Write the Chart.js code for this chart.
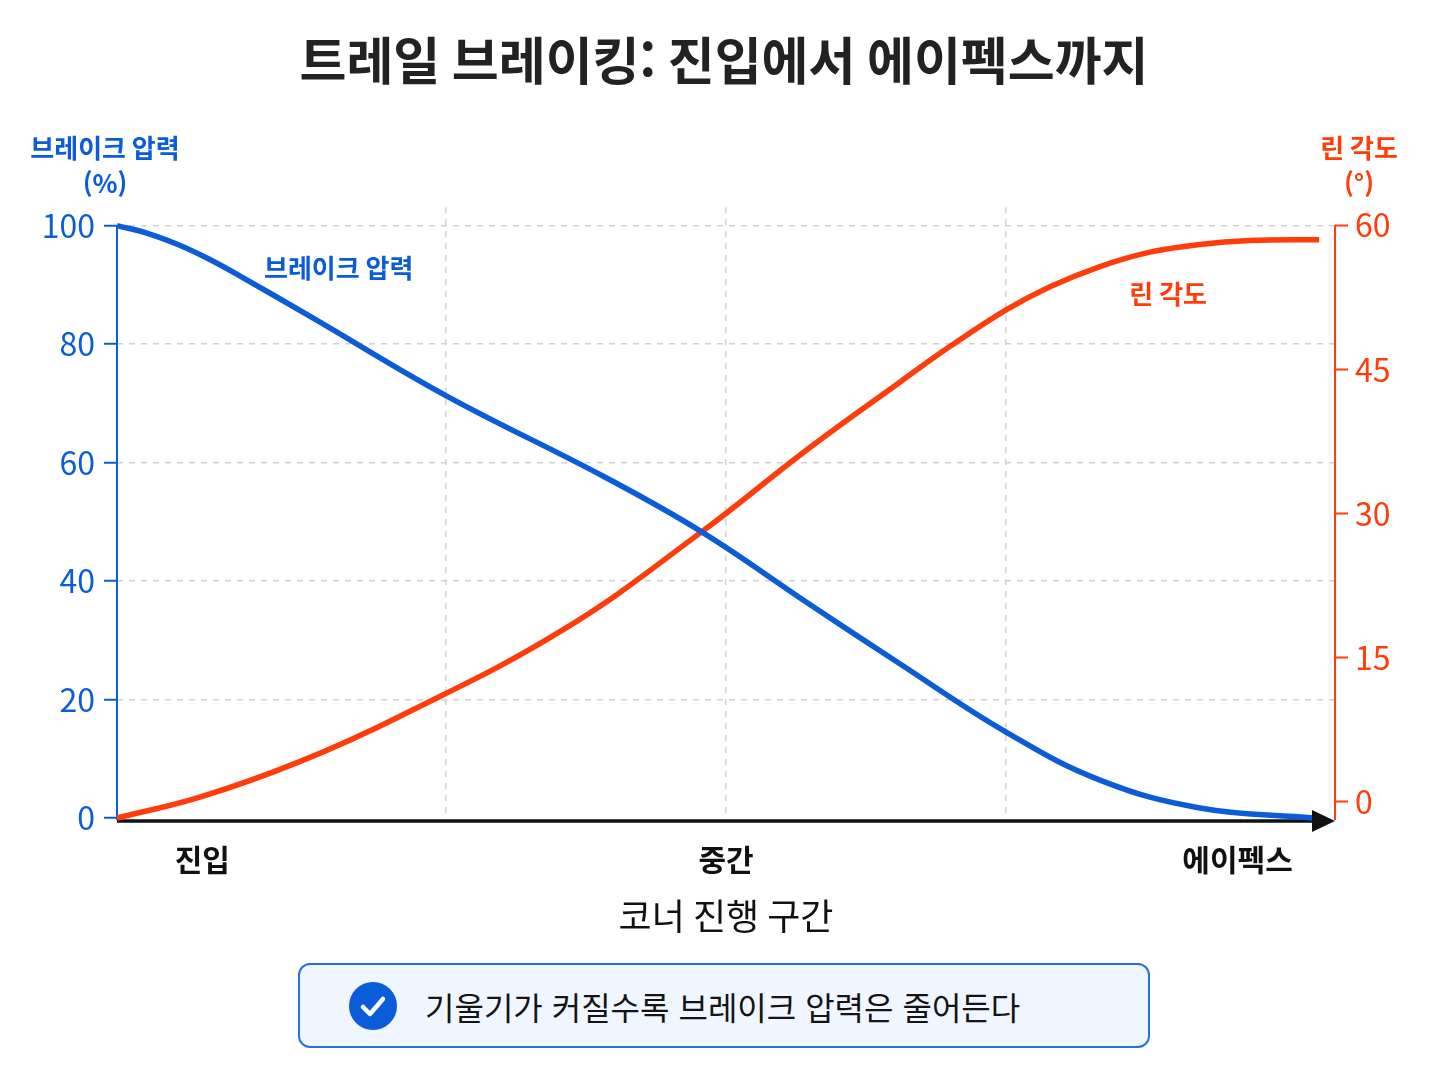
<!DOCTYPE html>
<html lang="ko">
<head>
<meta charset="utf-8">
<title>트레일 브레이킹: 진입에서 에이펙스까지</title>
<script src="https://cdn.jsdelivr.net/npm/chart.js@4.4.1/dist/chart.umd.min.js"></script>
<style>
  html, body { margin: 0; padding: 0; background: #fff; }
  #wrap { position: relative; width: 1448px; height: 1086px; overflow: hidden; }
  #chart { position: absolute; left: 0; top: 0; }
  .note {
    position: absolute; left: 298px; top: 963px; width: 848px; height: 81px;
    border: 2px solid #2b6ee0; border-radius: 12px; background: #eff6ff;
    display: flex; align-items: center; box-sizing: content-box;
    font-family: 'Noto Sans CJK KR', 'Noto Sans', sans-serif; font-size: 32px; color: #141414;
  }
  .note svg { margin-left: 49px; margin-right: 28px; flex: none; }
</style>
</head>
<body>
<div id="wrap">
  <canvas id="chart" width="1448" height="1086"></canvas>
  <div class="note">
    <svg width="48" height="48" viewBox="0 0 48 48">
      <circle cx="24" cy="24" r="24" fill="#0b5cd8"/>
      <path d="M14 25 L21 32 L34 17" fill="none" stroke="#fff" stroke-width="4.5" stroke-linecap="round" stroke-linejoin="round"/>
    </svg>
    <span>기울기가 커질수록 브레이크 압력은 줄어든다</span>
  </div>
</div>
<script>
// 코너 진행 (0 = 진입, 100 = 끝)
const brakeX = [0, 2.5, 5, 7.5, 10, 16, 27, 40, 48, 56.7, 64.3, 73, 80.7, 88.9, 98.2];
const brakePressure = [100, 98.7, 96.8, 94.4, 91.6, 84.5, 71.3, 57.6, 48.3, 36.3, 26.0, 14.5, 6.4, 1.7, 0];

const leanX = [0, 6.8, 15, 23.2, 36.6, 48, 56.7, 64.3, 68.4, 73, 76.6, 80.7, 84.8, 88.9, 93, 98.7];
const leanAngle = [-1.67, 0.5, 4.2, 8.9, 17.9, 28.1, 36.7, 43.7, 47.4, 51.2, 53.6, 55.7, 57.2, 58.0, 58.4, 58.5];

const xTickValues = [7, 27, 50, 73, 92];
const xTickLabels = ['진입', '', '중간', '', '에이펙스'];
const xGridValues = [27, 50, 73];
const brakeTicks = [0, 20, 40, 60, 80, 100];
const leanTicks = [0, 15, 30, 45, 60];

const BLUE = '#0b5cd8';
const RED = '#ff3c0a';
const FONT = "'Noto Sans CJK KR', 'Noto Sans', sans-serif";
const GRID = '#d2d2d2';

const decorPlugin = {
  id: 'decor',
  beforeDatasetsDraw(chart) {
    const { ctx, chartArea, scales } = chart;
    const yL = scales.yBrake;
    const yR = scales.yLean;
    ctx.save();
    ctx.lineWidth = 2;
    ctx.strokeStyle = BLUE;
    ctx.beginPath();
    ctx.moveTo(chartArea.left, yL.getPixelForValue(100));
    ctx.lineTo(chartArea.left, chartArea.bottom + 2);
    ctx.stroke();
    ctx.strokeStyle = RED;
    ctx.beginPath();
    ctx.moveTo(chartArea.right, yR.getPixelForValue(60));
    ctx.lineTo(chartArea.right, chartArea.bottom + 2);
    ctx.stroke();
    // x축 기준선
    ctx.strokeStyle = '#111';
    ctx.lineWidth = 3.5;
    ctx.beginPath();
    ctx.moveTo(chartArea.left, chartArea.bottom + 3);
    ctx.lineTo(chartArea.right - 20, chartArea.bottom + 3);
    ctx.stroke();
    ctx.restore();
  },
  afterDatasetsDraw(chart) {
    const { ctx, chartArea, scales } = chart;
    const x = scales.x;
    ctx.save();
    // 화살표
    const yb = chartArea.bottom + 3;
    ctx.fillStyle = '#111';
    ctx.beginPath();
    ctx.moveTo(chartArea.right - 23, yb - 11);
    ctx.lineTo(chartArea.right, yb);
    ctx.lineTo(chartArea.right - 23, yb + 11);
    ctx.closePath();
    ctx.fill();
    // 선 라벨
    ctx.textAlign = 'center';
    ctx.textBaseline = 'middle';
    ctx.font = `600 26px ${FONT}`;
    ctx.fillStyle = BLUE;
    ctx.fillText('브레이크 압력', x.getPixelForValue(18.2), scales.yBrake.getPixelForValue(92.9));
    ctx.fillStyle = RED;
    ctx.fillText('린 각도', x.getPixelForValue(86.3), scales.yLean.getPixelForValue(52.8));
    ctx.restore();
  },
  afterDraw(chart) {
    const { ctx, chartArea } = chart;
    ctx.save();
    ctx.textAlign = 'center';
    ctx.textBaseline = 'middle';
    ctx.font = `600 26px ${FONT}`;
    ctx.fillStyle = BLUE;
    ctx.fillText('브레이크 압력', chartArea.left - 12, chartArea.top - 59);
    ctx.fillText('(%)', chartArea.left - 12, chartArea.top - 24);
    ctx.fillStyle = RED;
    ctx.fillText('린 각도', chartArea.right + 24, chartArea.top - 59);
    ctx.fillText('(°)', chartArea.right + 24, chartArea.top - 24);
    ctx.restore();
  }
};

new Chart(document.getElementById('chart').getContext('2d'), {
  type: 'line',
  data: {
    datasets: [
      {
        label: '브레이크 압력',
        data: brakeX.map((v, i) => ({ x: v, y: brakePressure[i] })),
        yAxisID: 'yBrake',
        borderColor: BLUE,
        borderWidth: 5.5,
        pointRadius: 0,
        tension: 0.4,
        clip: false
      },
      {
        label: '린 각도',
        data: leanX.map((v, i) => ({ x: v, y: leanAngle[i] })),
        yAxisID: 'yLean',
        borderColor: RED,
        borderWidth: 5.5,
        pointRadius: 0,
        tension: 0.4,
        clip: false
      }
    ]
  },
  options: {
    responsive: false,
    animation: false,
    layout: { padding: { top: 0, bottom: 150, left: 0, right: 0 } },
    plugins: {
      legend: { display: false },
      tooltip: { enabled: false },
      title: {
        display: true,
        text: '트레일 브레이킹: 진입에서 에이펙스까지',
        color: '#222',
        font: { family: FONT, size: 51, weight: 'bold', lineHeight: 1.2 },
        padding: { top: 30, bottom: 116 }
      }
    },
    scales: {
      x: {
        type: 'linear',
        min: 0,
        max: 100,
        afterBuildTicks: (axis) => { axis.ticks = xTickValues.map(v => ({ value: v })); },
        afterFit: (axis) => { axis.height = 118; },
        ticks: {
          autoSkip: false,
          maxRotation: 0,
          padding: 24,
          color: '#111',
          font: { family: FONT, size: 30, weight: 'bold', lineHeight: 1.2 },
          callback: (value) => xTickLabels[xTickValues.indexOf(value)] || ''
        },
        grid: {
          drawTicks: false,
          lineWidth: 1.5,
          color: (c) => (c.tick && xGridValues.includes(c.tick.value)) ? GRID : 'transparent'
        },
        border: { display: false, dash: [6, 6] },
        title: {
          display: true,
          text: '코너 진행 구간',
          color: '#111',
          font: { family: FONT, size: 36, lineHeight: 1.2 },
          padding: { top: 0, bottom: -2 }
        }
      },
      yBrake: {
        type: 'linear',
        position: 'left',
        min: 0,
        max: 103.1,
        afterBuildTicks: (axis) => { axis.ticks = brakeTicks.map(v => ({ value: v })); },
        afterFit: (axis) => { axis.width = 117; },
        ticks: {
          color: BLUE,
          padding: 9,
          font: { family: FONT, size: 32 }
        },
        grid: {
          lineWidth: 1.5,
          color: (c) => (c.tick && c.tick.value === 0) ? 'transparent' : GRID,
          tickColor: BLUE,
          tickLength: 13,
          tickWidth: 2
        },
        border: { display: false, dash: [6, 6] }
      },
      yLean: {
        type: 'linear',
        position: 'right',
        min: -1.667,
        max: 61.875,
        afterBuildTicks: (axis) => { axis.ticks = leanTicks.map(v => ({ value: v })); },
        afterFit: (axis) => { axis.width = 113; },
        ticks: {
          color: RED,
          padding: 7,
          font: { family: FONT, size: 32 }
        },
        grid: {
          drawOnChartArea: false,
          tickColor: RED,
          tickLength: 13,
          tickWidth: 2
        },
        border: { display: false }
      }
    }
  },
  plugins: [decorPlugin]
});
</script>
</body>
</html>
